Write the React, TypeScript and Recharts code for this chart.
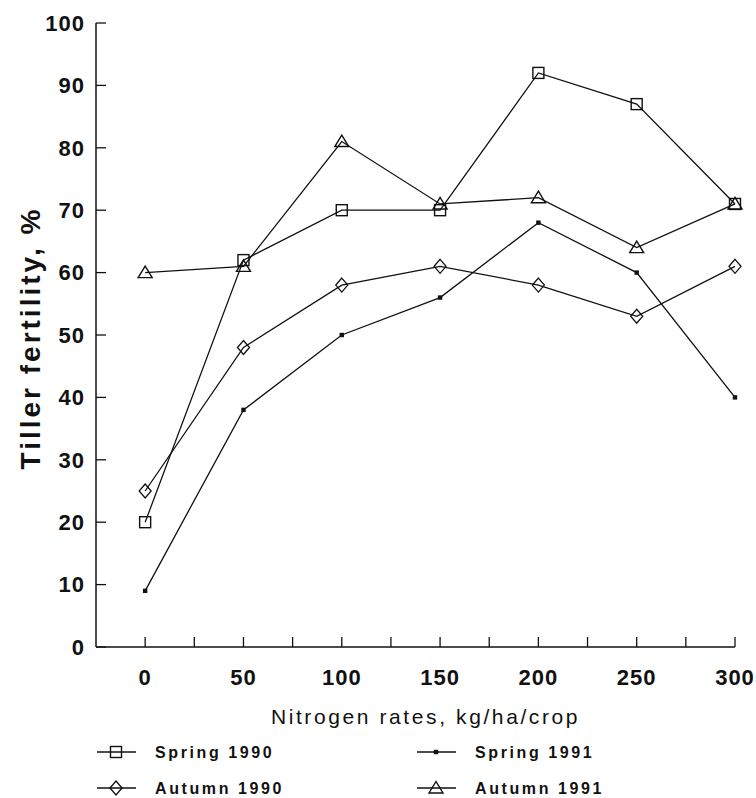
import { LineChart, Line, XAxis, YAxis, Label } from 'recharts';

// nitrogen rate (kg/ha/crop) on x, tiller fertility (%) on y
const rates = [0, 50, 100, 150, 200, 250, 300];
const spring1990 = [20, 62, 70, 70, 92, 87, 71];
const spring1991 = [9, 38, 50, 56, 68, 60, 40];
const autumn1990 = [25, 48, 58, 61, 58, 53, 61];
const autumn1991 = [60, 61, 81, 71, 72, 64, 71];

const xTicks = [0, 25, 50, 75, 100, 125, 150, 175, 200, 225, 250, 275, 300];
const yTicks = [0, 10, 20, 30, 40, 50, 60, 70, 80, 90, 100];

const data = rates.map((rate, i) => ({
  rate,
  spring1990: spring1990[i],
  spring1991: spring1991[i],
  autumn1990: autumn1990[i],
  autumn1991: autumn1991[i],
}));

const FONT = '"Liberation Sans", Arial, sans-serif';
const INK = '#111';

type Pt = { cx?: number; cy?: number };

const SquareMark = ({ cx = 0, cy = 0 }: Pt) => (
  <rect x={cx - 5.5} y={cy - 5.5} width={11} height={11} fill="none" stroke={INK} strokeWidth={1.4} />
);
const DotMark = ({ cx = 0, cy = 0 }: Pt) => (
  <rect x={cx - 2.2} y={cy - 2.2} width={4.4} height={4.4} fill={INK} />
);
const DiamondMark = ({ cx = 0, cy = 0 }: Pt) => (
  <polygon
    points={`${cx},${cy - 7} ${cx + 6},${cy} ${cx},${cy + 7} ${cx - 6},${cy}`}
    fill="none"
    stroke={INK}
    strokeWidth={1.3}
  />
);
const TriangleMark = ({ cx = 0, cy = 0 }: Pt) => (
  <polygon
    points={`${cx},${cy - 6.5} ${cx + 7},${cy + 5} ${cx - 7},${cy + 5}`}
    fill="none"
    stroke={INK}
    strokeWidth={1.4}
  />
);

const series = [
  { key: 'spring1990', name: 'Spring 1990', Mark: SquareMark },
  { key: 'spring1991', name: 'Spring 1991', Mark: DotMark },
  { key: 'autumn1990', name: 'Autumn 1990', Mark: DiamondMark },
  { key: 'autumn1991', name: 'Autumn 1991', Mark: TriangleMark },
];

// legend laid out 2 x 2 like the original
const legendSlots = [
  { x: 97, y: 752 },
  { x: 417, y: 752 },
  { x: 97, y: 788 },
  { x: 417, y: 788 },
];

const tickStyle = { fontFamily: FONT, fontSize: 22, fontWeight: 700, fill: INK, letterSpacing: 1 };

export default function App() {
  return (
    <div style={{ position: 'absolute', left: 0, top: 0, width: 756, height: 798, background: '#fff' }}>
      <LineChart width={756} height={798} data={data} margin={{ top: 23, right: 21, left: 0, bottom: 111 }}>
        <XAxis
          dataKey="rate"
          type="number"
          domain={[-25, 300]}
          ticks={xTicks}
          interval={0}
          tickFormatter={(v: number) => (v % 50 === 0 ? String(v) : '')}
          axisLine={{ stroke: INK, strokeWidth: 1.5 }}
          tickLine={{ stroke: INK, strokeWidth: 1.3 }}
          tickSize={-10}
          tickMargin={32}
          height={40}
          tick={tickStyle}
        >
          <Label
            content={({ viewBox }: any) => (
              <text
                x={viewBox.x + viewBox.width / 2 + 10}
                y={724}
                textAnchor="middle"
                fontFamily={FONT}
                fontSize={21}
                fill={INK}
                letterSpacing={2.6}
              >
                Nitrogen rates, kg/ha/crop
              </text>
            )}
          />
        </XAxis>
        <YAxis
          type="number"
          domain={[0, 100]}
          ticks={yTicks}
          interval={0}
          width={96}
          axisLine={{ stroke: INK, strokeWidth: 1.5 }}
          tickLine={{ stroke: INK, strokeWidth: 1.3 }}
          tickSize={-10}
          tickMargin={21}
          tick={tickStyle}
        >
          <Label
            content={({ viewBox }: any) => {
              const cy = viewBox.y + viewBox.height / 2 + 3;
              return (
                <text
                  x={30}
                  y={cy}
                  transform={`rotate(-90 30 ${cy})`}
                  textAnchor="middle"
                  dominantBaseline="central"
                  fontFamily={FONT}
                  fontSize={28}
                  fontWeight={700}
                  fill={INK}
                  letterSpacing={3}
                >
                  Tiller fertility, %
                </text>
              );
            }}
          />
        </YAxis>
        {series.map(({ key, name, Mark }) => (
          <Line
            key={key}
            dataKey={key}
            name={name}
            type="linear"
            stroke={INK}
            strokeWidth={1.3}
            isAnimationActive={false}
            dot={(p: any) => <Mark key={`${key}-${p.index}`} cx={p.cx} cy={p.cy} />}
            activeDot={false}
          />
        ))}
      </LineChart>
      <svg width={756} height={798} style={{ position: 'absolute', left: 0, top: 0, pointerEvents: 'none' }}>
        {series.map(({ key, name, Mark }, i) => {
          const { x, y } = legendSlots[i];
          return (
            <g key={key}>
              <line x1={x} x2={x + 39} y1={y} y2={y} stroke={INK} strokeWidth={1.4} />
              <Mark cx={x + 19} cy={y} />
              <text
                x={x + 58}
                y={y}
                dominantBaseline="central"
                fontFamily={FONT}
                fontSize={16}
                fontWeight={700}
                fill={INK}
                letterSpacing={2.6}
              >
                {name}
              </text>
            </g>
          );
        })}
      </svg>
    </div>
  );
}
